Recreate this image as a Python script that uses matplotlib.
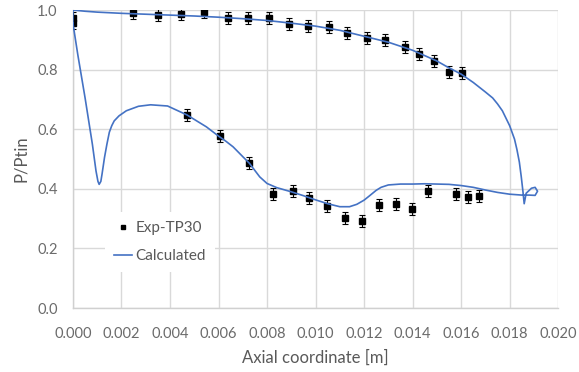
#
# Pressure ratio along the axial coordinate: experiment vs calculation
#
import matplotlib.pyplot as plt

# experimental points (Exp-TP30)
exp_x = [0.0, 0.0, 0.00246, 0.0035, 0.00445, 0.0054, 0.00638, 0.00723, 0.00807,
         0.0089, 0.0097, 0.01054, 0.01129, 0.01211, 0.01288, 0.01369, 0.01427,
         0.01489, 0.01548, 0.01603,
         0.00471, 0.00606, 0.00727, 0.00826, 0.00905, 0.00975, 0.01047, 0.0112,
         0.01192, 0.01262, 0.01331, 0.01399, 0.01465, 0.01578, 0.0163, 0.01675]
exp_y = [0.972, 0.955, 0.991, 0.984, 0.987, 0.993, 0.973, 0.974, 0.972,
         0.953, 0.947, 0.944, 0.924, 0.907, 0.898, 0.875, 0.851,
         0.829, 0.791, 0.788,
         0.648, 0.577, 0.486, 0.383, 0.394, 0.368, 0.342, 0.301,
         0.293, 0.346, 0.349, 0.331, 0.393, 0.383, 0.374, 0.377]
exp_err = 0.02

# calculated curve (one closed contour)
calc_x = [0.0, 0.0, 0.0005, 0.001, 0.002, 0.003, 0.004, 0.005, 0.006, 0.007,
          0.008, 0.009, 0.010, 0.011, 0.012, 0.013, 0.014, 0.015, 0.0155, 0.016,
          0.0165, 0.017, 0.0173, 0.0175, 0.0177, 0.018, 0.0182, 0.0183, 0.0184,
          0.01848, 0.01855, 0.0186,
          0.01868, 0.0189, 0.01905, 0.01915, 0.01905, 0.0188,
          0.0185, 0.018, 0.0175, 0.017, 0.0165, 0.016, 0.0155, 0.015, 0.0145,
          0.014, 0.0135, 0.013, 0.0127, 0.0125, 0.0122, 0.012, 0.0117, 0.0114,
          0.011, 0.0105, 0.010, 0.0095, 0.009, 0.0084, 0.008, 0.0077, 0.00727,
          0.007, 0.0066, 0.0063, 0.006, 0.0055, 0.0047, 0.0039, 0.0032, 0.0027,
          0.0022, 0.0019, 0.0017, 0.0016, 0.0015, 0.0014, 0.0013, 0.0012,
          0.00115, 0.00108, 0.00103, 0.00095, 0.0008, 0.0005, 0.0002, 0.0]
calc_y = [0.955, 1.0, 0.996, 0.993, 0.989, 0.986, 0.983, 0.980, 0.976, 0.971,
          0.965, 0.956, 0.946, 0.932, 0.912, 0.892, 0.865, 0.829, 0.806, 0.785,
          0.757, 0.725, 0.705, 0.685, 0.662, 0.612, 0.567, 0.532, 0.49,
          0.44, 0.39, 0.35,
          0.385, 0.402, 0.405, 0.392, 0.378, 0.379,
          0.379, 0.382, 0.388, 0.396, 0.405, 0.411, 0.415, 0.416, 0.417,
          0.416, 0.416, 0.413, 0.405, 0.395, 0.375, 0.362, 0.348, 0.340,
          0.340, 0.35, 0.363, 0.377, 0.39, 0.404, 0.418, 0.44, 0.486,
          0.508, 0.541, 0.56, 0.577, 0.608, 0.648, 0.678, 0.682, 0.677,
          0.662, 0.645, 0.628, 0.612, 0.59, 0.55, 0.505, 0.45,
          0.425, 0.415, 0.425, 0.46, 0.55, 0.705, 0.85, 0.955]

xticks = [0.000, 0.002, 0.004, 0.006, 0.008, 0.010, 0.012, 0.014, 0.016, 0.018, 0.020]
yticks = [0.0, 0.2, 0.4, 0.6, 0.8, 1.0]

plt.rcParams['font.family'] = ['Lato', 'DejaVu Sans']

fig = plt.figure(figsize=(5.79, 3.72), dpi=100)
ax = fig.add_axes([0.126, 0.172, 0.838, 0.801])

# error bars first, then markers, then the calculated line
ax.errorbar(exp_x, exp_y, yerr=exp_err, fmt='none', ecolor='black',
            elinewidth=0.8, capsize=2, capthick=0.8, zorder=3)
ax.plot(exp_x, exp_y, 's', color='black', markersize=4.5, label='Exp-TP30', zorder=4)
ax.plot(calc_x, calc_y, '-', color='#4472C4', linewidth=1.2, label='Calculated', zorder=5)

ax.set_xlim(0, 0.020)
ax.set_ylim(0, 1.0)
ax.set_xticks(xticks)
ax.set_yticks(yticks)
ax.set_xticklabels(['%.3f' % v for v in xticks])
ax.set_yticklabels(['%.1f' % v for v in yticks])
ax.tick_params(length=0, labelsize=10.5, labelcolor='#6b6b6b')
ax.tick_params(axis='x', pad=14)
ax.tick_params(axis='y', pad=11)

ax.grid(True, color='#d9d9d9', linewidth=1)
ax.set_axisbelow(True)
for s in ['top', 'right']:
    ax.spines[s].set_visible(False)
for s in ['left', 'bottom']:
    ax.spines[s].set_color('#d0d0d0')
    ax.spines[s].set_linewidth(1)

ax.set_xlabel('Axial coordinate [m]', fontsize=12, color='#595959', labelpad=6)
ax.set_ylabel('P/Ptin', fontsize=12, color='#595959', labelpad=6)

leg = ax.legend(loc='upper left', bbox_to_anchor=(0.066, 0.322), borderaxespad=0,
                frameon=True, fancybox=False, edgecolor='none', facecolor='white',
                framealpha=1, fontsize=11, handlelength=1.2, handletextpad=0.2,
                labelspacing=0.9, markerscale=0.6, borderpad=0.6)
for t in leg.get_texts():
    t.set_color('#595959')

fig.savefig('out.png', dpi=100)
